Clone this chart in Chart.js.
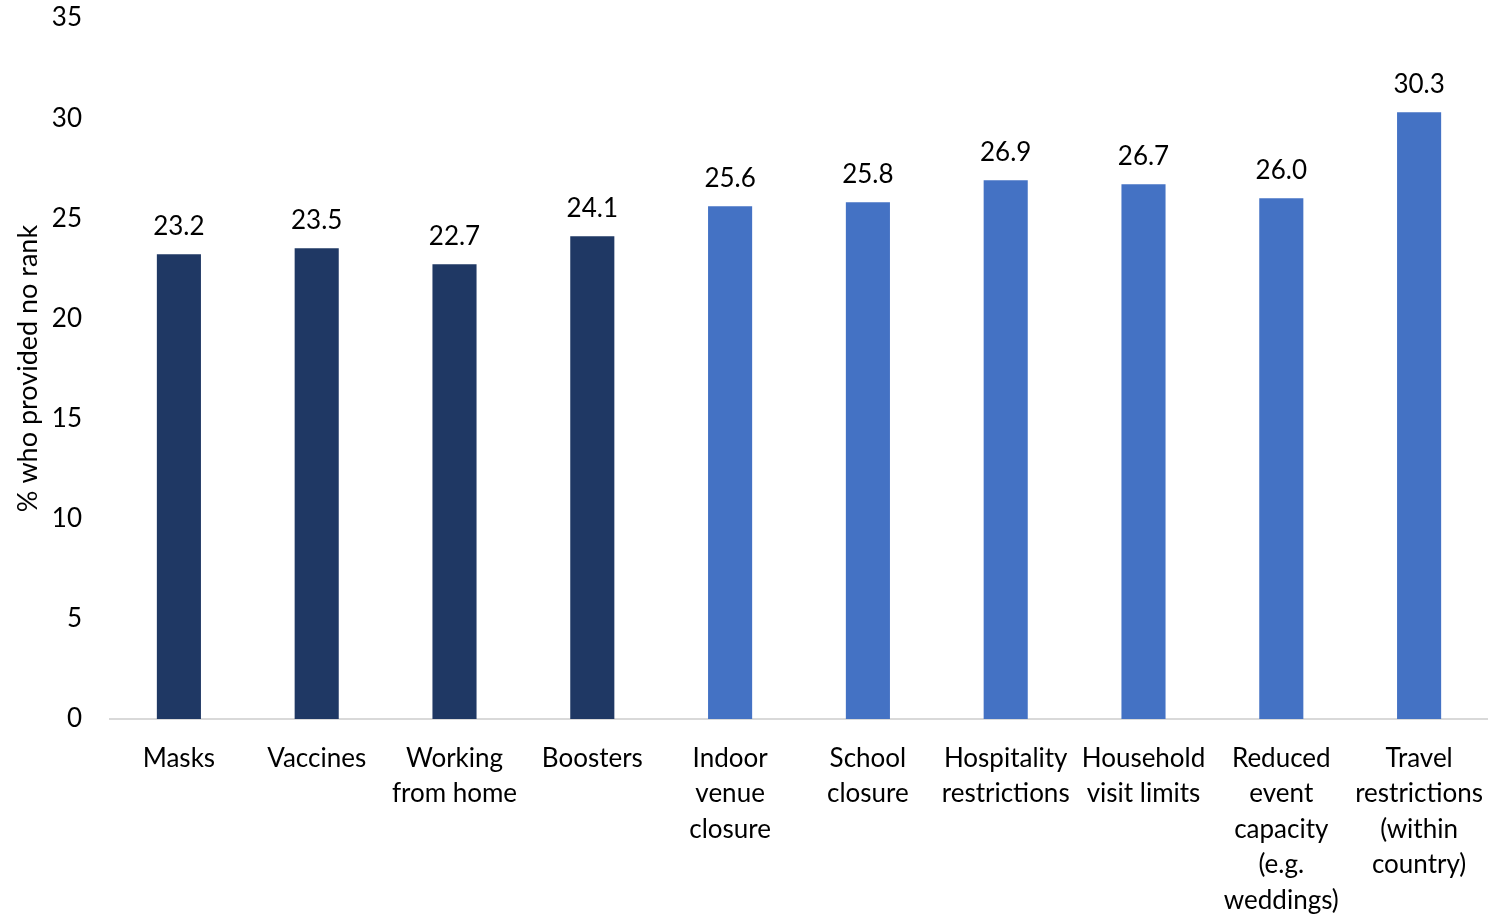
<!DOCTYPE html>
<html>
<head>
<meta charset="utf-8">
<script src="https://cdn.jsdelivr.net/npm/chart.js@4"></script>
<style>
  html, body { margin: 0; padding: 0; background: #fff; }
  #wrap { width: 1488px; height: 916px; }
</style>
</head>
<body>
<div id="wrap"><canvas id="chart"></canvas></div>
<script>
const categories = [
    ['Masks'],
    ['Vaccines'],
    ['Working', 'from home'],
    ['Boosters'],
    ['Indoor', 'venue', 'closure'],
    ['School', 'closure'],
    ['Hospitality', 'restrictions'],
    ['Household', 'visit limits'],
    ['Reduced', 'event', 'capacity', '(e.g.', 'weddings)'],
    ['Travel', 'restrictions', '(within', 'country)']
];
const noRankPct = [23.2, 23.5, 22.7, 24.1, 25.6, 25.8, 26.9, 26.7, 26.0, 30.3];
const barGroup = ['dark', 'dark', 'dark', 'dark', 'light', 'light', 'light', 'light', 'light', 'light'];

const FONT = 'Lato, "Open Sans", sans-serif';
const colors = { dark: '#1F3864', light: '#4472C4' };

// draws the value above each bar
const valueLabels = {
    id: 'valueLabels',
    afterDatasetsDraw(chart) {
        const ctx = chart.ctx;
        const meta = chart.getDatasetMeta(0);
        ctx.save();
        ctx.font = '26px ' + FONT;
        ctx.fillStyle = '#000';
        ctx.textAlign = 'center';
        ctx.textBaseline = 'middle';
        meta.data.forEach((bar, i) => {
            ctx.fillText(noRankPct[i].toFixed(1), bar.x, bar.y - 28);
        });
        ctx.restore();
    }
};

new Chart(document.getElementById('chart'), {
    type: 'bar',
    data: {
        labels: categories,
        datasets: [{
            data: noRankPct,
            backgroundColor: barGroup.map(g => colors[g]),
            barPercentage: 0.32,
            categoryPercentage: 1.0
        }]
    },
    options: {
        responsive: true,
        maintainAspectRatio: false,
        animation: false,
        layout: { padding: { top: 18, right: 0, left: 0, bottom: 0 } },
        plugins: {
            legend: { display: false },
            tooltip: { enabled: false }
        },
        scales: {
            y: {
                min: 0,
                max: 35,
                ticks: { stepSize: 5, color: '#000', font: { size: 26, family: FONT }, padding: 20 },
                grid: { display: false },
                border: { display: false },
                title: {
                    display: true,
                    text: '% who provided no rank',
                    color: '#000',
                    font: { size: 27, family: FONT },
                    padding: { top: 12, bottom: 0 }
                },
                afterFit(scale) {
                    scale.width = 110;
                    scale.paddingTop = 0;
                    scale.paddingBottom = 0;
                }
            },
            x: {
                ticks: {
                    color: '#000',
                    font: { size: 26, family: FONT, lineHeight: 1.36 },
                    maxRotation: 0,
                    autoSkip: false,
                    padding: 14
                },
                grid: { display: false },
                border: { display: true, color: '#D9D9D9', width: 2 },
                afterFit(scale) {
                    scale.height = 197;
                    scale.paddingLeft = 0;
                    scale.paddingRight = 0;
                }
            }
        }
    },
    plugins: [valueLabels]
});
</script>
</body>
</html>
